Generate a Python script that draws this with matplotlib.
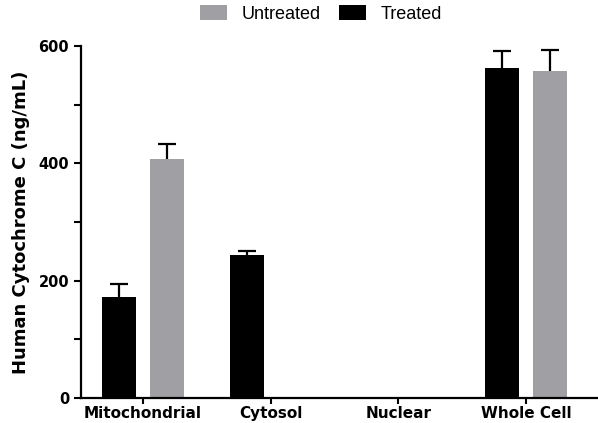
#!/usr/bin/env python3
# -*- coding: utf-8 -*-
"""
Human cytochrome C by cell fraction, treated vs untreated
"""

import numpy as np
import matplotlib.pyplot as plt
from matplotlib.ticker import MultipleLocator

plt.rcParams['font.family'] = 'DejaVu Sans'

categories = ['Mitochondrial', 'Cytosol', 'Nuclear', 'Whole Cell']
treated     = [172, 244, 0, 562]
treated_err = [22, 6, 0, 29]
untreated     = [407, 0, 0, 557]
untreated_err = [26, 0, 0, 36]

x = np.arange(len(categories))
w = 0.267
off = 0.188
cap = 0.07

fig = plt.figure(figsize=(5.98, 4.23), dpi=100)
ax = fig.add_axes([81/598, 25/423, 1 - 81/598, (398-46)/423])

def upper_err(xpos, vals, errs):
    # only the upper half of the error bar, like Prism draws it
    for xi, v, e in zip(xpos, vals, errs):
        if v <= 0:
            continue
        ax.vlines(xi, v, v + e, color='black', linewidth=1.6, zorder=1)
        ax.hlines(v + e, xi - cap, xi + cap, color='black', linewidth=1.6, zorder=1)

ax.bar(x - off, treated, w, color='black', label='Treated', zorder=2)
ax.bar(x + off, untreated, w, color='#a0a0a4', label='Untreated', zorder=2)
upper_err(x - off, treated, treated_err)
upper_err(x + off, untreated, untreated_err)

ax.set_xlim(-0.486, 3.565)
ax.set_ylim(0, 600)
ax.set_xticks(x)
ax.set_xticklabels(categories, fontsize=11, fontweight='bold')
ax.yaxis.set_major_locator(MultipleLocator(200))
ax.yaxis.set_minor_locator(MultipleLocator(100))
for lbl in ax.get_yticklabels():
    lbl.set_fontweight('bold')
ax.tick_params(axis='y', labelsize=10.5, width=1.5, length=5)
ax.tick_params(axis='y', which='minor', width=1.5, length=5)
ax.tick_params(axis='x', width=1.5, length=4, pad=2)
ax.set_ylabel('Human Cytochrome C (ng/mL)', fontsize=13, fontweight='bold', labelpad=6)

for s in ['top', 'right']:
    ax.spines[s].set_visible(False)
for s in ['left', 'bottom']:
    ax.spines[s].set_linewidth(1.6)

h, l = ax.get_legend_handles_labels()
fig.legend(h[::-1], l[::-1], loc='center', bbox_to_anchor=(0.537, 0.967), ncol=2,
           frameon=False, handlelength=1.5, handleheight=0.9,
           columnspacing=1.0, handletextpad=0.8, prop={'family': 'Liberation Sans', 'size': 13})

plt.savefig('out.png', dpi=100)
